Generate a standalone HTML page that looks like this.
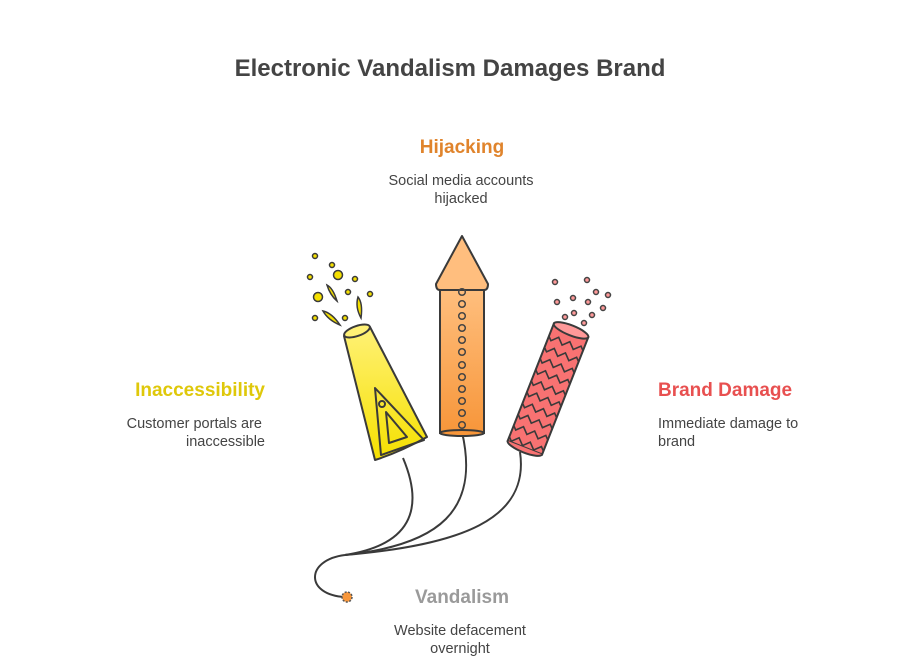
<!DOCTYPE html>
<html><head><meta charset="utf-8"><style>
body{margin:0;background:#fff;width:900px;height:672px;overflow:hidden}
svg{display:block}
text{font-family:"Liberation Sans",sans-serif}
</style></head><body>
<svg width="900" height="672" viewBox="0 0 900 672">
<defs>
<linearGradient id="yg" x1="0" y1="0" x2="0" y2="1"><stop offset="0" stop-color="#fff176"/><stop offset="1" stop-color="#f5e000"/></linearGradient>
<linearGradient id="og" x1="0" y1="0" x2="0" y2="1"><stop offset="0" stop-color="#ffc080"/><stop offset="1" stop-color="#f7963a"/></linearGradient>
<clipPath id="rc"><rect x="-18.5" y="-63" width="37" height="126"/></clipPath>
</defs>
<text x="450" y="76" text-anchor="middle" font-size="24" font-weight="bold" fill="#444">Electronic Vandalism Damages Brand</text>
<text x="462" y="153" text-anchor="middle" font-size="19" font-weight="bold" fill="#e0842c">Hijacking</text>
<text x="461" y="185" text-anchor="middle" font-size="14.5" fill="#444">Social media accounts</text>
<text x="461" y="203" text-anchor="middle" font-size="14.5" fill="#444">hijacked</text>
<text x="265" y="396" text-anchor="end" font-size="19" font-weight="bold" fill="#dfc80a">Inaccessibility</text>
<text x="262" y="428" text-anchor="end" font-size="14.5" fill="#444">Customer portals are</text>
<text x="265" y="446" text-anchor="end" font-size="14.5" fill="#444">inaccessible</text>
<text x="658" y="396" font-size="19" font-weight="bold" fill="#e85050">Brand Damage</text>
<text x="658" y="428" font-size="14.5" fill="#444">Immediate damage to</text>
<text x="658" y="446" font-size="14.5" fill="#444">brand</text>
<text x="462" y="603" text-anchor="middle" font-size="19" font-weight="bold" fill="#9a9a9a">Vandalism</text>
<text x="460" y="635" text-anchor="middle" font-size="14.5" fill="#444">Website defacement</text>
<text x="460" y="653" text-anchor="middle" font-size="14.5" fill="#444">overnight</text>
<g fill="none" stroke="#3a3a3a" stroke-width="2">
<path d="M403 458 C425 510 410 545 345 555"/>
<path d="M462 432 C480 510 440 545 345 555"/>
<path d="M520 452 C530 520 460 545 345 555"/>
<path d="M345 555 C305 560 305 595 345 597"/>
</g>
<circle cx="347" cy="597" r="5" fill="#f7963a" stroke="#555" stroke-width="1.5" stroke-dasharray="2 1.5"/>
<g stroke="#3a3a3a" stroke-width="2">
<path d="M344 336 L370 327 L427 437 Q400 452 375 460 Z" fill="url(#yg)" stroke-linejoin="round"/>
<ellipse cx="357" cy="331" rx="13.5" ry="5" transform="rotate(-19 357 331)" fill="#fff176"/>
<path d="M375 388 L424 440 L381 455 Z" fill="none" stroke-linejoin="round"/>
<path d="M386 412 L407 437 L389 443 Z" fill="none" stroke-linejoin="round"/>
<circle cx="382" cy="404" r="3" fill="none"/>
</g>
<g fill="#f5e000" stroke="#3a3a3a" stroke-width="1.5">
<circle cx="315" cy="256" r="2.5"/><circle cx="332" cy="265" r="2.5"/><circle cx="338" cy="275" r="4.5"/><circle cx="310" cy="277" r="2.5"/><circle cx="355" cy="279" r="2.5"/><circle cx="348" cy="292" r="2.5"/><circle cx="370" cy="294" r="2.5"/><circle cx="318" cy="297" r="4.5"/><circle cx="315" cy="318" r="2.5"/><circle cx="345" cy="318" r="2.5"/>
<path d="M327 285 Q333 288 337 301 Q330 295 327 285Z"/>
<path d="M358 297 Q363 303 361 318 Q355 307 358 297Z"/>
<path d="M323 311 Q332 313 340 325 Q328 320 323 311Z"/>
</g>
<g stroke="#3a3a3a" stroke-width="2">
<rect x="440" y="284" width="44" height="149" fill="url(#og)"/>
<ellipse cx="462" cy="433" rx="22" ry="3" fill="#f7963a"/>
<path d="M462 236 L488 284 Q488 290 484 290 L440 290 Q436 290 436 284 Z" fill="#ffbe7e" stroke-linejoin="round"/>
</g>
<g fill="none" stroke="#444" stroke-width="1.5">
<circle cx="462" cy="292" r="3.3"/><circle cx="462" cy="304" r="3.3"/><circle cx="462" cy="316" r="3.3"/><circle cx="462" cy="328" r="3.3"/><circle cx="462" cy="340" r="3.3"/><circle cx="462" cy="352" r="3.3"/><circle cx="462" cy="365" r="3.3"/><circle cx="462" cy="377" r="3.3"/><circle cx="462" cy="389" r="3.3"/><circle cx="462" cy="401" r="3.3"/><circle cx="462" cy="413" r="3.3"/><circle cx="462" cy="425" r="3.3"/>
</g>
<g transform="translate(548 389) rotate(21.5)" stroke="#3a3a3a" stroke-width="2">
<rect x="-18.5" y="-63" width="37" height="126" fill="#f87272"/>
<g clip-path="url(#rc)" fill="none" stroke-width="1.6">
<path d="M-21 -52 l6 6 6-6 6 6 6-6 6 6 6-6 6 6"/>
<path d="M-21 -40 l6 6 6-6 6 6 6-6 6 6 6-6 6 6"/>
<path d="M-21 -28 l6 6 6-6 6 6 6-6 6 6 6-6 6 6"/>
<path d="M-21 -16 l6 6 6-6 6 6 6-6 6 6 6-6 6 6"/>
<path d="M-21 -4 l6 6 6-6 6 6 6-6 6 6 6-6 6 6"/>
<path d="M-21 8 l6 6 6-6 6 6 6-6 6 6 6-6 6 6"/>
<path d="M-21 20 l6 6 6-6 6 6 6-6 6 6 6-6 6 6"/>
<path d="M-21 32 l6 6 6-6 6 6 6-6 6 6 6-6 6 6"/>
<path d="M-21 44 l6 6 6-6 6 6 6-6 6 6 6-6 6 6"/>
<path d="M-21 56 l6 6 6-6 6 6 6-6 6 6 6-6 6 6"/>
</g>
<path d="M-18.5 63 A18.5 5 0 0 0 18.5 63" fill="#f87272"/>
<ellipse cx="0" cy="-63" rx="18.5" ry="5" fill="#f99"/>
</g>
<g fill="#f99" stroke="#444" stroke-width="1.5">
<circle cx="555" cy="282" r="2.5"/><circle cx="587" cy="280" r="2.5"/><circle cx="596" cy="292" r="2.5"/><circle cx="608" cy="295" r="2.5"/><circle cx="557" cy="302" r="2.5"/><circle cx="573" cy="298" r="2.5"/><circle cx="588" cy="302" r="2.5"/><circle cx="603" cy="308" r="2.5"/><circle cx="565" cy="317" r="2.5"/><circle cx="574" cy="313" r="2.5"/><circle cx="592" cy="315" r="2.5"/><circle cx="584" cy="323" r="2.5"/>
</g>
</svg>
</body></html>
